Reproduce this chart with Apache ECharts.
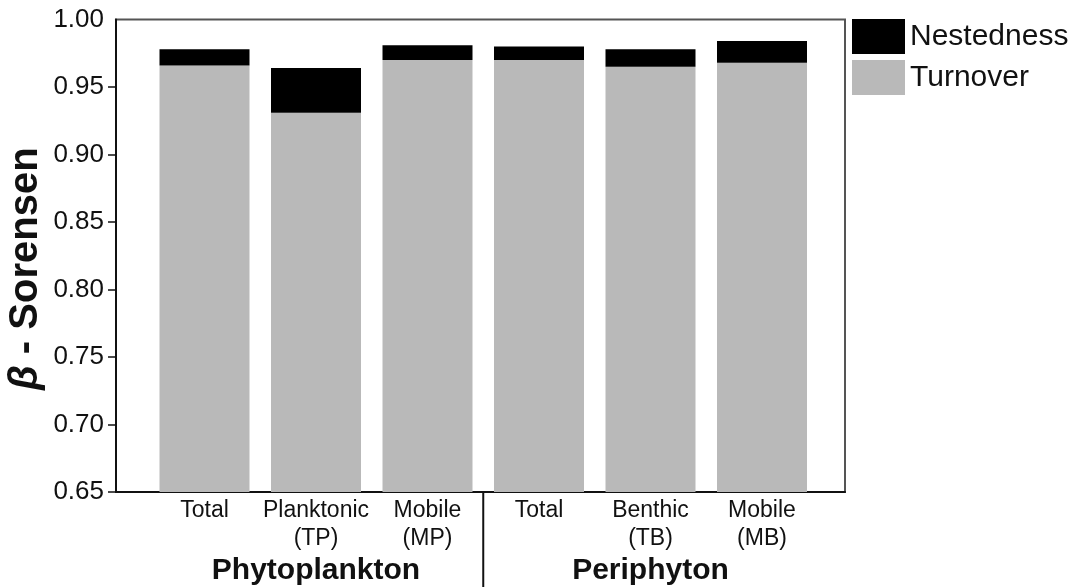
<!DOCTYPE html>
<html>
<head>
<meta charset="utf-8">
<script src="https://cdn.jsdelivr.net/npm/echarts@6/dist/echarts.min.js"></script>
<style>
html,body{margin:0;padding:0;background:#fff;}
#main{width:1071px;height:587px;}
</style>
</head>
<body>
<div id="main"></div>
<script>
const categories = ['Total', 'Planktonic\n(TP)', 'Mobile\n(MP)', 'Total', 'Benthic\n(TB)', 'Mobile\n(MB)'];
const groups = ['Phytoplankton', 'Periphyton'];
const turnover = [0.966, 0.931, 0.970, 0.970, 0.965, 0.968];
const nestedness = [0.012, 0.033, 0.011, 0.010, 0.013, 0.016];
const yTicks = [0.65, 0.70, 0.75, 0.80, 0.85, 0.90, 0.95];

const FONT = '"Liberation Sans", Arial, sans-serif';
const chart = echarts.init(document.getElementById('main'));
const gridTop = 19.5, gridH = 472.5;
const option = {
  animation: false,
  textStyle: { fontFamily: FONT, color: '#111' },
  legend: {
    data: ['Nestedness', 'Turnover'],
    orient: 'vertical',
    left: 852, top: 19,
    padding: 0,
    itemWidth: 53, itemHeight: 35, itemGap: 6,
    icon: 'rect',
    textStyle: { fontSize: 30, color: '#111', fontFamily: FONT }
  },
  grid: [
    { left: 116, top: gridTop, width: 729, height: gridH, containLabel: false, outerBoundsMode: 'none', show: true, borderColor: '#555', borderWidth: 2, backgroundColor: 'transparent' },
    { left: 148.75, top: gridTop, width: 669, height: gridH, containLabel: false, outerBoundsMode: 'none' }
  ],
  xAxis: [
    { type: 'value', gridIndex: 0, min: 0, max: 1, axisLine: { show: true, lineStyle: { color: '#111', width: 2 } }, axisTick: { show: false }, axisLabel: { show: false }, splitLine: { show: false } },
    { type: 'category', gridIndex: 1, data: categories,
      axisLine: { show: false },
      axisTick: { show: true, alignWithLabel: true, inside: true, length: 3, lineStyle: { color: '#333', width: 1.5 } },
      axisLabel: { fontSize: 23, lineHeight: 28, color: '#111', margin: 5, interval: 0, fontFamily: FONT }
    },
    { type: 'category', gridIndex: 1, data: groups, position: 'bottom',
      axisLine: { show: false }, axisTick: { show: false },
      axisLabel: { fontSize: 30, fontWeight: 'bold', color: '#111', margin: 64, interval: 0, fontFamily: FONT }
    }
  ],
  yAxis: [
    { type: 'value', gridIndex: 0, min: 0.65, max: 1.00, interval: 0.05,
      axisLine: { show: true, lineStyle: { color: '#111', width: 2 } },
      axisTick: { show: true, length: 8, customValues: yTicks, lineStyle: { color: '#111', width: 1.5 } },
      axisLabel: { fontSize: 26, color: '#111', margin: 12, fontFamily: FONT, formatter: v => v.toFixed(2) },
      splitLine: { show: false },
      name: '{b|β} - Sorensen', nameLocation: 'middle', nameGap: 70, nameMoveOverlap: false,
      nameTextStyle: { fontSize: 40, fontWeight: 'bold', color: '#111', fontFamily: FONT, padding: [0, 26, 0, 0],
        rich: { b: { fontSize: 40, fontWeight: 'bold', fontStyle: 'italic', color: '#111', fontFamily: FONT } } }
    },
    { type: 'value', gridIndex: 1, min: 0.65, max: 1.00, interval: 0.05, show: false }
  ],
  series: [
    { name: 'Turnover', type: 'bar', stack: 'beta', xAxisIndex: 1, yAxisIndex: 1, data: turnover, barWidth: 90, itemStyle: { color: '#b9b9b9' } },
    { name: 'Nestedness', type: 'bar', stack: 'beta', xAxisIndex: 1, yAxisIndex: 1, data: nestedness, barWidth: 90, itemStyle: { color: '#000' } }
  ]
};
chart.setOption(option);

// separator between the two groups
const p2 = chart.convertToPixel({ xAxisIndex: 1 }, 2);
const p3 = chart.convertToPixel({ xAxisIndex: 1 }, 3);
const yb = chart.convertToPixel({ yAxisIndex: 0 }, 0.65);
const sx = (p2 + p3) / 2;
chart.setOption({
  graphic: [{ type: 'line', shape: { x1: sx, y1: yb, x2: sx, y2: 587 }, style: { stroke: '#111', lineWidth: 2 }, z: 10 }]
});
</script>
</body>
</html>
